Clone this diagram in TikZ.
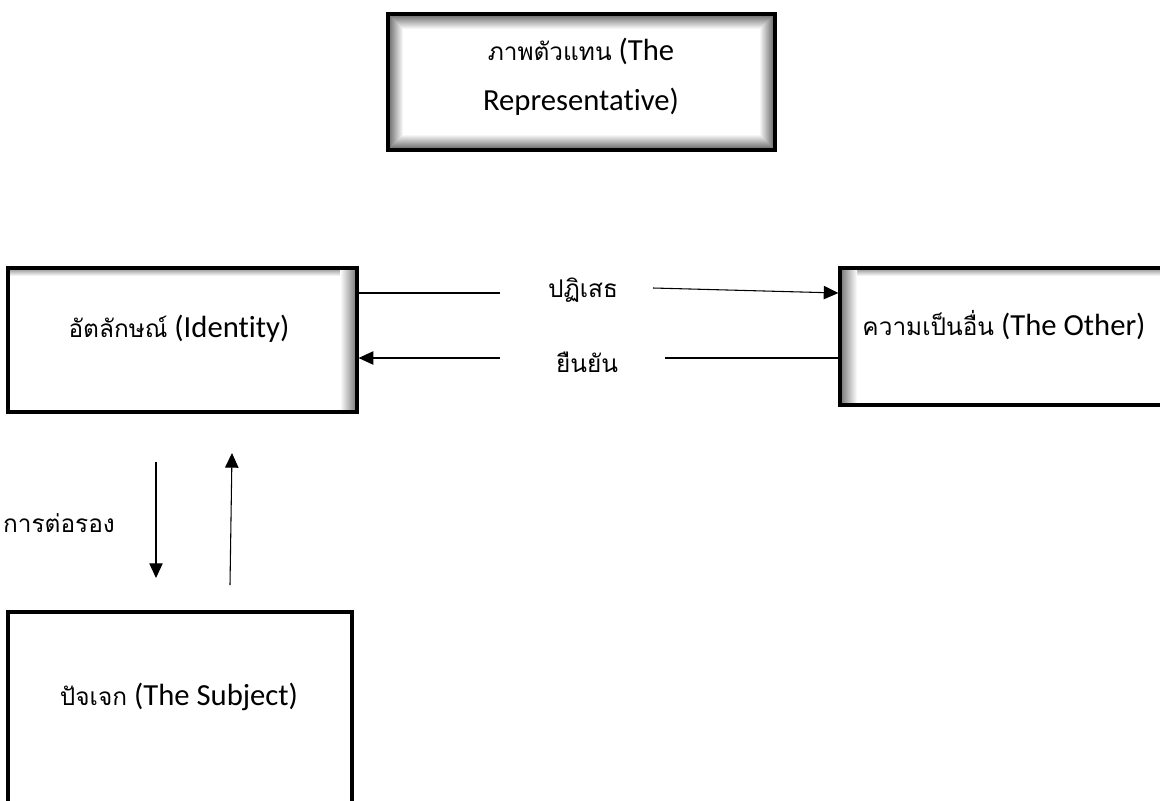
\documentclass[tikz,border=0pt]{standalone}
\usepackage{fontspec}
\setmainfont{Carlito}[Ligatures=NoCommon]
\newfontfamily\thaifont[Script=Thai]{Loma}
\newcommand\thtxt[1]{{\fontsize{18.3}{37.5}\thaifont #1}}
\usetikzlibrary{arrows.meta,fit}
\begin{document}
\begin{tikzpicture}[x=0.75pt,y=-0.75pt,
  box/.style={draw=black, line width=2.4pt, inner sep=0pt},
  txt/.style={font=\fontsize{23}{37.5}\selectfont, inner sep=0pt, anchor=base},
  ln/.style={line width=0.8pt},
  arr/.style={line width=0.8pt, -{Triangle[length=11pt,width=10pt]}}]
\useasboundingbox (0,0) rectangle (1160,800);
\clip (0,0) rectangle (1160,800);
% inner shadow of the top box
\foreach \i in {2,...,17}{
  \pgfmathtruncatemacro\g{max(0,64-4*\i)}
  \draw[black!\g, line width=0.8pt] (388+\i,14+\i) rectangle (775-\i,150-\i);
}
% inner shadow of identity box (top and right)
\shade[top color=black!45, bottom color=white] (8,268) rectangle (357,276);
\shade[left color=white, right color=black!55] (340,268) rectangle (357,412);
% inner shadow of the other box (top and left)
\shade[top color=black!45, bottom color=white] (840,268) rectangle (1175,276);
\shade[left color=black!55, right color=white] (840,268) rectangle (857,405);
% boxes
\node[box, fit={(388,14) (775,150)}] (rep) {};
\node[box, fit={(8,268) (357,412)}] (ident) {};
\node[box, fit={(840,268) (1175,405)}] (other) {};
\node[box, fit={(8,612) (352,815)}] (subj) {};
% texts
\node[txt, align=center] (reptext) at (581,110) {\thtxt{ภาพตัวแทน} (The\\Representative)};
\node[txt] (identtext) at (179,337) {\thtxt{อัตลักษณ์} (Identity)};
\node[txt] (othertext) at (1004,335) {\thtxt{ความเป็นอื่น} (The Other)};
\node[txt] (subjtext) at (179,705) {\thtxt{ปัจเจก} (The Subject)};
\node[txt] (deny) at (583,297) {\thtxt{ปฏิเสธ}};
\node[txt] (affirm) at (587,372) {\thtxt{ยืนยัน}};
\node[txt] (nego) at (59,532) {\thtxt{การต่อรอง}};
% connectors
\coordinate (a1) at (500,293); \coordinate (a2) at (653,288);
\draw[ln] (ident.east |- a1) -- (a1);
\draw[arr] (a2) -- (other.west |- a1);
\coordinate (b1) at (500,358); \coordinate (b2) at (665,358);
\draw[arr] (b1) -- (ident.east |- b1);
\draw[ln] (b2) -- (other.west |- b2);
\coordinate (c1) at (156,462); \coordinate (c2) at (156,578);
\draw[arr] (c1) -- (c2);
\coordinate (d1) at (230,585); \coordinate (d2) at (232,453);
\draw[arr] (d1) -- (d2);
\end{tikzpicture}
\end{document}
